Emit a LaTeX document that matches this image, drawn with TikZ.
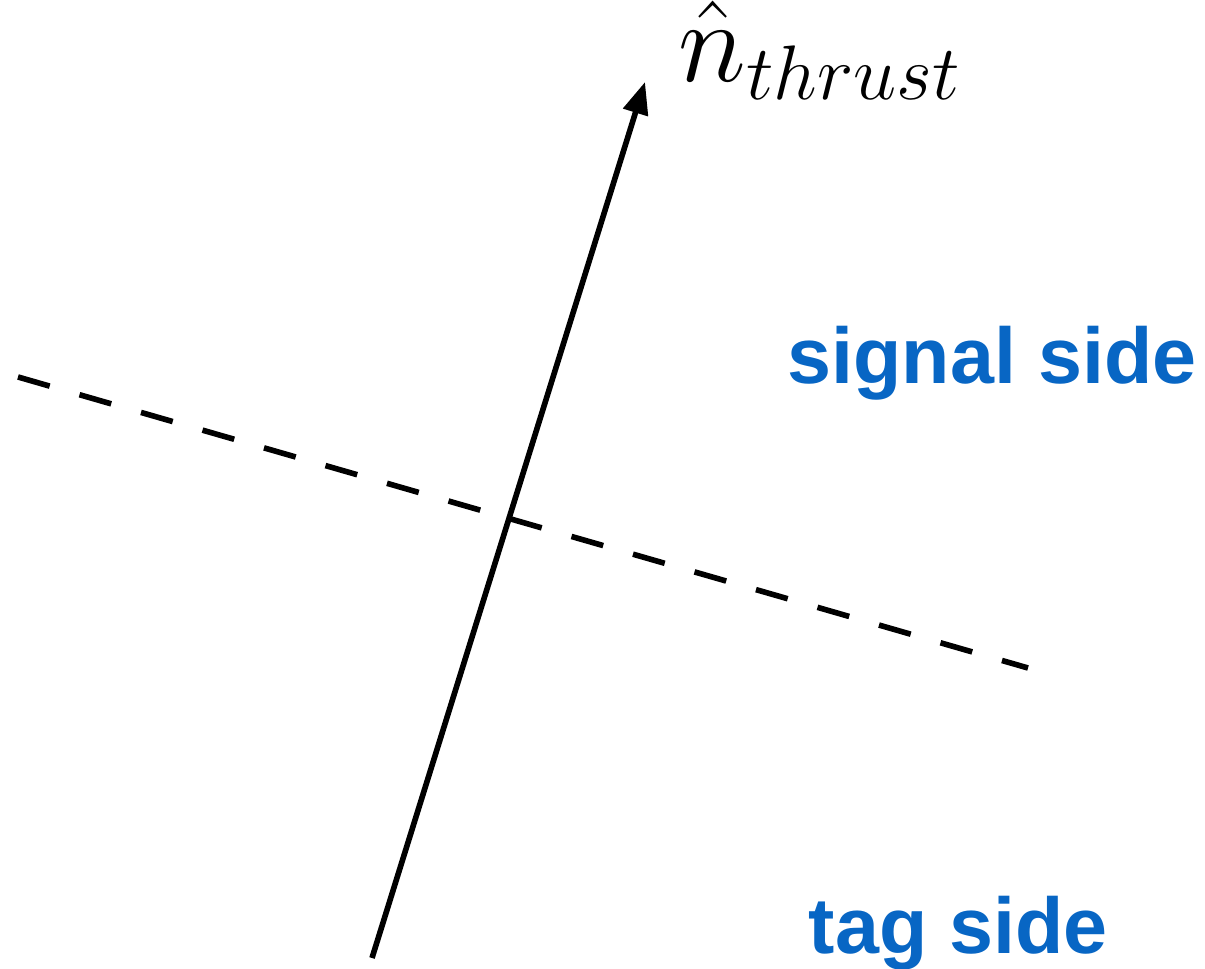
\RequirePackage{fix-cm}
\documentclass[tikz,border=0pt]{standalone}
\usepackage{amsmath}
\usepackage{fontspec}
\setsansfont{Liberation Sans}
\usepackage{xcolor}
\usetikzlibrary{arrows.meta}
\DeclareMathSizes{33}{33}{22}{15}
\definecolor{sideblue}{RGB}{8,102,196}
\tikzset{
  axisline/.style={line width=1.6pt, -{Triangle[length=3.2mm,width=2.5mm]}},
  planeline/.style={line width=1.6pt, dash pattern=on 0.33cm off 0.31cm},
  sidelabel/.style={anchor=base west, inner sep=0pt, text=sideblue,
    font=\sffamily\bfseries\fontsize{22.5}{27}\selectfont}
}
\begin{document}
\begin{tikzpicture}
            \useasboundingbox (0,0) rectangle (12.05,9.68);
            \coordinate (tail) at (3.72,0.10);
            \coordinate (tip) at (6.45,8.86);
            \coordinate (planeL) at (0.18,5.91);
            \coordinate (planeR) at (10.28,3.00);
            \draw [planeline] (planeL) -- (planeR);
            \draw [axisline] (tail) -- (tip);
            \node [anchor=base west, inner sep=0pt] (nthrust) at (6.78,8.86)
                {\fontsize{33}{40}\selectfont$\hat{n}_{thrust}$};
            \node [sidelabel] (signal) at (7.87,5.84) {signal side};
            \node [sidelabel] (tag) at (8.08,0.15) {tag side};
        \end{tikzpicture}
\end{document}
